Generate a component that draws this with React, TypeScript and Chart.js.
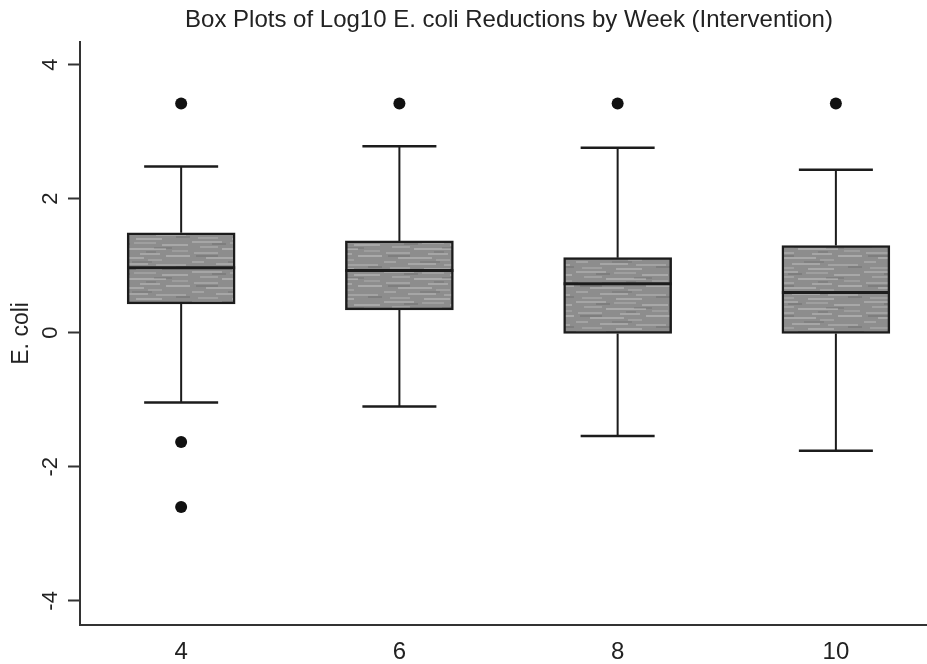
import React, { useEffect, useRef } from "react";
import { Chart, registerables } from "chart.js";

Chart.register(...registerables);

const weeks = [4, 6, 8, 10];
const whiskerLow = [-1.04, -1.1, -1.54, -1.76];
const q1 = [0.43, 0.34, -0.01, -0.01];
const median = [0.97, 0.93, 0.73, 0.6];
const q3 = [1.49, 1.37, 1.12, 1.3];
const whiskerHigh = [2.48, 2.78, 2.76, 2.43];
const outlierWeeks = [4, 4, 4, 6, 8, 10];
const outlierValues = [3.42, -1.63, -2.6, 3.42, 3.42, 3.42];
const yTicks = [-4, -2, 0, 2, 4];

const FONT = "'Liberation Sans', Arial, Helvetica, sans-serif";
const INK = "#1c1c1c";

// texture strokes for the grey box fill: [x, y, length, alpha]
const lightStreaks = [
  [0, 1, 30, 0.22], [38, 2, 22, 0.16], [66, 4, 26, 0.24], [8, 6, 18, 0.18],
  [30, 8, 40, 0.26], [76, 10, 16, 0.14], [2, 12, 24, 0.2], [44, 13, 20, 0.22],
  [70, 15, 24, 0.26], [14, 17, 34, 0.24], [52, 19, 14, 0.16], [0, 21, 12, 0.2],
  [24, 23, 28, 0.22], [60, 24, 30, 0.2], [6, 27, 20, 0.16], [40, 28, 26, 0.24],
];
const darkStreaks = [
  [20, 3, 14, 0.1], [58, 7, 18, 0.09], [4, 15, 22, 0.1], [36, 21, 20, 0.08],
  [80, 26, 14, 0.1], [50, 11, 10, 0.08],
];

function makePattern(ctx: CanvasRenderingContext2D): CanvasPattern | string {
  const c = document.createElement("canvas");
  c.width = 96;
  c.height = 30;
  const g = c.getContext("2d");
  if (!g) return "#939393";
  g.fillStyle = "#8d8d8d";
  g.fillRect(0, 0, 96, 30);
  lightStreaks.forEach(([x, y, w, a]) => {
    g.fillStyle = `rgba(255,255,255,${a})`;
    g.fillRect(x, y, w, 2);
  });
  darkStreaks.forEach(([x, y, w, a]) => {
    g.fillStyle = `rgba(0,0,0,${a})`;
    g.fillRect(x, y, w, 2);
  });
  return ctx.createPattern(c, "repeat") || "#939393";
}

const boxPlugin = {
  id: "boxWhiskers",
  afterDatasetsDraw(chart: any) {
    const { ctx, scales } = chart;
    const xs = scales.x;
    const ys = scales.y;
    ctx.save();
    ctx.strokeStyle = INK;
    ctx.lineCap = "butt";
    weeks.forEach((w, i) => {
      const cx = xs.getPixelForValue(w);
      const capHalf = 37;
      const halfBox = 54;
      ctx.lineWidth = 2;
      ctx.beginPath();
      ctx.moveTo(cx, ys.getPixelForValue(q3[i]));
      ctx.lineTo(cx, ys.getPixelForValue(whiskerHigh[i]));
      ctx.moveTo(cx, ys.getPixelForValue(q1[i]));
      ctx.lineTo(cx, ys.getPixelForValue(whiskerLow[i]));
      ctx.stroke();
      ctx.lineWidth = 2.5;
      ctx.beginPath();
      const yh = ys.getPixelForValue(whiskerHigh[i]);
      const yl = ys.getPixelForValue(whiskerLow[i]);
      ctx.moveTo(cx - capHalf, yh);
      ctx.lineTo(cx + capHalf, yh);
      ctx.moveTo(cx - capHalf, yl);
      ctx.lineTo(cx + capHalf, yl);
      ctx.stroke();
      ctx.lineWidth = 3;
      ctx.beginPath();
      const ym = ys.getPixelForValue(median[i]);
      ctx.moveTo(cx - halfBox, ym);
      ctx.lineTo(cx + halfBox, ym);
      ctx.stroke();
    });
    ctx.restore();
  },
};

export default function App() {
  const ref = useRef<HTMLCanvasElement | null>(null);
  useEffect(() => {
    const canvas = ref.current;
    if (!canvas) return;
    const ctx = canvas.getContext("2d");
    if (!ctx) return;
    const fill = makePattern(ctx);
    const chart = new Chart(ctx, {
      type: "bar",
      data: {
        datasets: [
          {
            type: "bar",
            data: weeks.map((w, i) => ({ x: w, y: [q1[i], q3[i]] })) as any,
            backgroundColor: fill as any,
            borderColor: INK,
            borderWidth: 2.5,
            borderSkipped: false,
            barThickness: 108,
          },
          {
            type: "scatter",
            data: outlierWeeks.map((w, i) => ({ x: w, y: outlierValues[i] })),
            backgroundColor: "#111",
            borderWidth: 0,
            pointRadius: 6,
          } as any,
        ],
      },
      options: {
        animation: false,
        responsive: false,
        maintainAspectRatio: false,
        layout: { padding: 0 },
        plugins: {
          legend: { display: false },
          tooltip: { enabled: false },
          title: {
            display: true,
            text: "Box Plots of Log10 E. coli Reductions by Week (Intervention)",
            color: "#222",
            font: { family: FONT, size: 24, weight: "normal" },
            padding: { top: 6, bottom: 7 },
          },
        },
        scales: {
          x: {
            type: "linear",
            offset: false,
            min: 3.073,
            max: 11.614,
            afterBuildTicks: (s: any) => {
              s.ticks = weeks.map((v) => ({ value: v }));
            },
            afterFit: (s: any) => {
              s.height = 39;
            },
            grid: { display: false, drawTicks: false, offset: false },
            border: { display: true, color: "#333", width: 2 },
            ticks: {
              color: "#222",
              font: { family: FONT, size: 24 },
              padding: 13,
              maxRotation: 0,
              autoSkip: false,
            },
          },
          y: {
            type: "linear",
            min: -4.36,
            max: 4.34,
            afterBuildTicks: (s: any) => {
              s.ticks = yTicks.map((v) => ({ value: v }));
            },
            afterFit: (s: any) => {
              s.width = 80;
            },
            grid: {
              display: true,
              drawOnChartArea: false,
              drawTicks: true,
              tickLength: 12,
              tickWidth: 2,
              tickColor: "#333",
            },
            border: { display: true, color: "#333", width: 2 },
            ticks: {
              color: "#222",
              font: { family: FONT, size: 22 },
              padding: 7,
              minRotation: 90,
              maxRotation: 90,
              crossAlign: "center",
            },
            title: {
              display: true,
              text: "E. coli",
              color: "#222",
              font: { family: FONT, size: 23 },
              padding: { top: 8, bottom: 0 },
            },
          },
        },
      },
      plugins: [boxPlugin],
    });
    return () => chart.destroy();
  }, []);
  return (
    <div
      style={{
        position: "absolute",
        left: 0,
        top: 0,
        width: 927,
        height: 664,
        overflow: "hidden",
        background: "#fff",
      }}
    >
      <canvas ref={ref} width={1018} height={664} style={{ display: "block" }} />
    </div>
  );
}
